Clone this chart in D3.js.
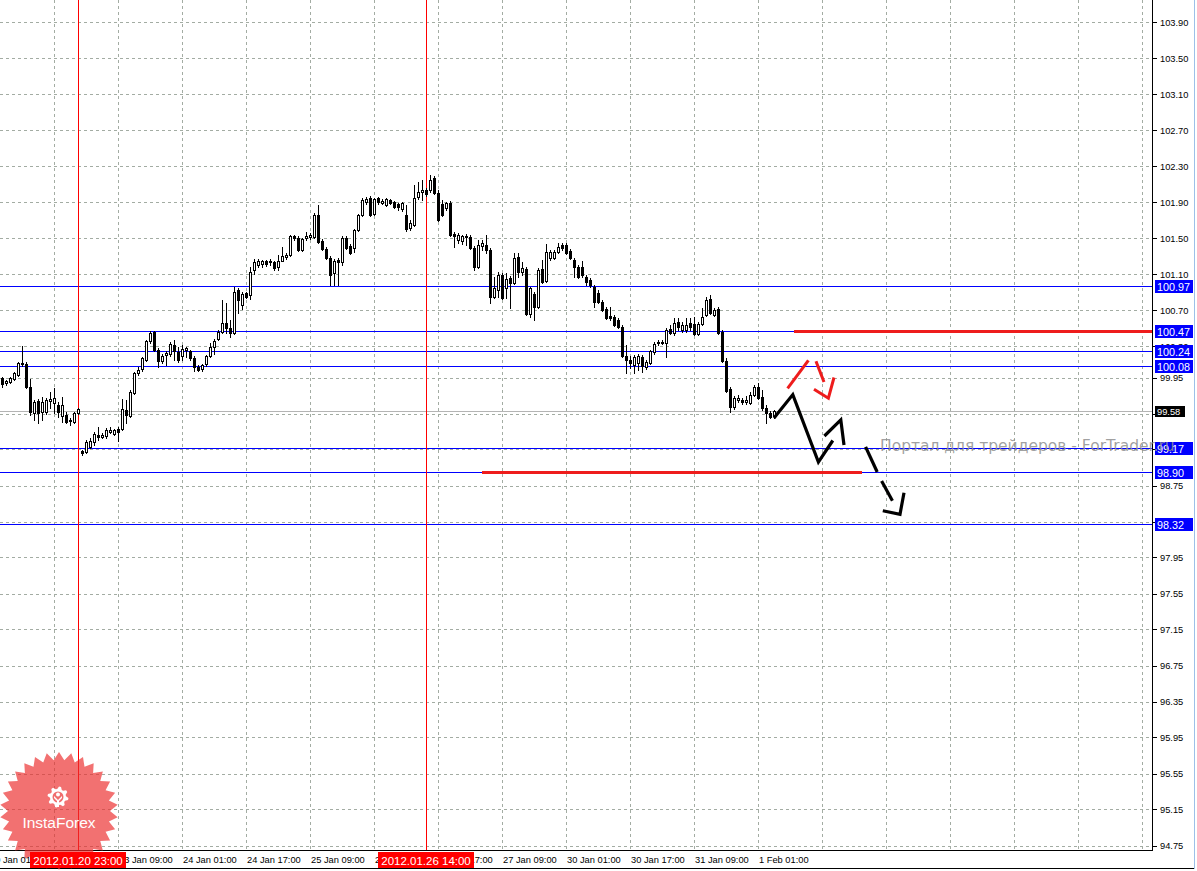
<!DOCTYPE html>
<html>
<head>
<meta charset="utf-8">
<script src="https://cdn.jsdelivr.net/npm/d3@7"></script>
<style>
body { margin: 0; background: #fff; }
svg { display: block; }
</style>
</head>
<body>
<svg width="1197" height="871"></svg>
<script>
// hourly bars, oldest first (bar 19 = 2012.01.20 23:00, bar 106 = 2012.01.26 14:00)
const openP = [99.94,99.89,99.90,99.93,99.98,100.11,100.10,99.84,99.56,99.69,
  99.57,99.57,99.69,99.67,99.64,99.52,99.53,99.48,99.46,99.56,
  99.13,99.12,99.18,99.23,99.31,99.29,99.30,99.34,99.32,99.38,
  99.38,99.59,99.52,99.78,100.00,100.04,100.14,100.36,100.46,100.26,
  100.13,100.20,100.21,100.31,100.23,100.19,100.26,100.24,100.17,100.07,
  100.04,100.10,100.19,100.29,100.38,100.46,100.56,100.50,100.44,100.92,
  100.76,100.89,100.87,101.14,101.20,101.21,101.24,101.23,101.23,101.18,
  101.25,101.29,101.31,101.52,101.50,101.37,101.50,101.51,101.51,101.76,
  101.47,101.38,101.28,101.11,101.26,101.23,101.50,101.41,101.39,101.59,
  101.76,101.90,101.94,101.77,101.94,101.89,101.87,101.92,101.90,101.88,
  101.82,101.76,101.61,101.64,101.96,102.01,102.03,102.03,102.17,102.00,
  101.88,101.83,101.89,101.54,101.48,101.47,101.51,101.51,101.39,101.18,
  101.41,101.42,101.37,100.84,100.92,101.09,100.94,101.06,101.00,101.29,
  101.12,101.16,100.66,100.88,100.73,101.16,101.02,101.28,101.28,101.34,
  101.42,101.42,101.36,101.26,101.18,101.18,101.07,101.03,100.96,100.89,
  100.79,100.71,100.63,100.62,100.59,100.51,100.19,100.14,100.09,100.11,
  100.18,100.07,100.11,100.23,100.33,100.34,100.33,100.49,100.44,100.57,
  100.48,100.48,100.56,100.54,100.43,100.54,100.64,100.82,100.64,100.71,
  100.46,100.13,99.82,99.62,99.70,99.70,99.68,99.67,99.76,99.84,
  99.73,99.61,99.56,99.52];
const highP = [99.96,99.92,99.96,100.01,100.12,100.30,100.12,99.93,99.70,99.71,
  99.73,99.72,99.79,99.83,99.68,99.73,99.57,99.50,99.57,99.61,
  99.14,99.26,99.28,99.34,99.40,99.33,99.39,99.40,99.38,99.40,
  99.71,99.70,99.81,100.01,100.07,100.18,100.37,100.47,100.47,100.28,
  100.21,100.24,100.34,100.37,100.29,100.31,100.29,100.26,100.19,100.09,
  100.10,100.20,100.33,100.38,100.48,100.81,100.78,100.59,100.96,100.94,
  100.90,100.90,101.18,101.27,101.27,101.26,101.26,101.27,101.24,101.31,
  101.40,101.33,101.53,101.53,101.52,101.50,101.57,101.56,101.78,101.87,
  101.49,101.40,101.30,101.27,101.28,101.52,101.52,101.43,101.60,101.77,
  101.94,101.96,101.97,101.94,101.96,101.93,101.94,101.93,101.91,101.89,
  101.90,101.87,101.70,102.09,102.12,102.14,102.06,102.20,102.19,102.03,
  101.92,101.90,101.91,101.57,101.56,101.53,101.54,101.53,101.41,101.48,
  101.48,101.53,101.39,101.07,101.12,101.11,101.11,101.08,101.33,101.33,
  101.23,101.18,100.96,100.90,101.17,101.26,101.43,101.37,101.37,101.44,
  101.44,101.44,101.38,101.28,101.20,101.24,101.09,101.06,100.98,100.92,
  100.81,100.73,100.73,100.64,100.61,100.53,100.31,100.19,100.20,100.21,
  100.20,100.14,100.26,100.34,100.37,100.37,100.50,100.53,100.61,100.61,
  100.57,100.61,100.61,100.62,100.57,100.72,100.84,100.87,100.72,100.73,
  100.48,100.17,99.84,99.74,99.76,99.72,99.74,99.79,99.87,99.89,
  99.81,99.64,99.58,99.59];
const lowP = [99.84,99.87,99.89,99.92,99.97,100.08,99.83,99.53,99.48,99.44,
  99.48,99.54,99.61,99.56,99.51,99.46,99.44,99.42,99.44,99.54,
  99.09,99.11,99.17,99.20,99.26,99.28,99.28,99.33,99.31,99.24,
  99.37,99.44,99.51,99.77,99.98,100.02,100.13,100.33,100.24,100.07,
  100.11,100.09,100.19,100.14,100.12,100.14,100.18,100.14,100.02,100.02,
  100.02,100.08,100.18,100.21,100.37,100.44,100.44,100.40,100.43,100.67,
  100.71,100.83,100.82,101.10,101.18,101.18,101.19,101.20,101.14,101.14,
  101.24,101.27,101.30,101.48,101.36,101.36,101.48,101.49,101.50,101.44,
  101.37,101.27,100.98,100.98,100.98,101.20,101.38,101.32,101.34,101.58,
  101.74,101.88,101.74,101.76,101.88,101.88,101.86,101.88,101.83,101.81,
  101.80,101.58,101.59,101.63,101.93,101.92,101.97,102.01,101.99,101.69,
  101.74,101.81,101.52,101.40,101.44,101.43,101.42,101.38,101.14,101.17,
  101.37,101.33,100.78,100.83,100.84,100.82,100.83,100.72,100.99,101.07,
  101.09,100.64,100.62,100.59,100.72,101.00,101.01,101.26,101.27,101.33,
  101.37,101.32,101.27,101.07,101.06,101.07,100.98,100.96,100.73,100.78,
  100.69,100.60,100.59,100.52,100.50,100.18,100.00,100.06,100.00,100.03,
  100.01,100.04,100.10,100.21,100.31,100.32,100.18,100.43,100.42,100.48,
  100.46,100.46,100.48,100.42,100.42,100.53,100.63,100.66,100.63,100.43,
  100.12,99.79,99.57,99.60,99.68,99.66,99.66,99.66,99.74,99.71,
  99.59,99.44,99.50,99.50];
const closeP = [99.88,99.91,99.94,100.00,100.11,100.10,99.84,99.57,99.68,99.56,
  99.68,99.70,99.71,99.72,99.57,99.64,99.46,99.47,99.56,99.60,
  99.11,99.23,99.24,99.32,99.29,99.31,99.37,99.37,99.37,99.34,
  99.60,99.53,99.79,100.00,100.03,100.17,100.36,100.44,100.26,100.13,
  100.19,100.22,100.32,100.24,100.14,100.27,100.28,100.17,100.07,100.03,
  100.09,100.19,100.29,100.36,100.46,100.56,100.50,100.44,100.90,100.81,
  100.88,100.84,101.12,101.23,101.25,101.24,101.21,101.25,101.17,101.25,
  101.30,101.31,101.52,101.50,101.37,101.49,101.52,101.53,101.76,101.46,
  101.38,101.28,101.09,101.25,101.23,101.50,101.39,101.33,101.59,101.76,
  101.92,101.93,101.76,101.93,101.90,101.91,101.93,101.89,101.84,101.84,
  101.89,101.60,101.67,101.94,102.01,102.03,101.99,102.14,102.00,101.70,
  101.76,101.89,101.53,101.52,101.53,101.52,101.52,101.39,101.18,101.42,
  101.44,101.37,100.84,100.94,101.09,100.83,101.04,101.00,101.28,101.12,
  101.17,100.66,100.94,100.73,101.14,101.01,101.34,101.34,101.34,101.40,
  101.39,101.33,101.28,101.18,101.07,101.09,101.01,100.98,100.79,100.79,
  100.70,100.61,100.61,100.53,100.51,100.19,100.14,100.11,100.18,100.19,
  100.08,100.12,100.24,100.32,100.34,100.33,100.48,100.44,100.56,100.51,
  100.53,100.53,100.51,100.43,100.54,100.62,100.81,100.67,100.70,100.44,
  100.13,99.80,99.62,99.72,99.72,99.68,99.70,99.76,99.84,99.72,
  99.61,99.56,99.51,99.58];

const priceTicks = [103.90,103.50,103.10,102.70,102.30,101.90,101.50,101.10,100.70,100.30,
  99.95,99.55,99.15,98.75,98.35,97.95,97.55,97.15,96.75,96.35,95.95,95.55,95.15,94.75];
const timeTickBars = [13,29,45,61,77,93,109,125,141,157,173,189];
const timeTickLabels = ['20 Jan 17:00','23 Jan 09:00','24 Jan 01:00','24 Jan 17:00','25 Jan 09:00',
  '26 Jan 01:00','26 Jan 17:00','27 Jan 09:00','30 Jan 01:00','30 Jan 17:00','31 Jan 09:00','1 Feb 01:00'];
const firstLabel = '20 Jan 01:00';
const levels = [100.97,100.47,100.24,100.08,99.17,98.90,98.32];
const bidPrice = 99.58;
const markerBars = [19,106];
const markerLabels = ['2012.01.20 23:00','2012.01.26 14:00'];
// red support/resistance segments: price, from bar, to bar
const redSegPrice = [100.47,98.90];
const redSegFrom = [198,120];
const redSegTo = [288,215];
// hand-drawn forecast strokes, [bar, price]
const blackStrokes = [
  [[193,99.50],[197.7,99.76],[204.1,99.01],[207.7,99.25]],
  [[205.6,99.30],[209.7,99.48],[210.5,99.20]]
];
const blackDashes = [
  [[215.9,99.18],[218.8,98.90]],
  [[219.9,98.80],[222.6,98.58]],
  [[220.2,98.47],[224.5,98.43],[225.5,98.67]]
];
const redStrokes = [
  [[196.4,99.83],[201.6,100.14]],
  [[203.5,100.13],[205.5,99.90]],
  [[203.0,99.82],[206.6,99.72],[208.0,99.95]]
];

const svg = d3.select('svg');
const width = +svg.attr('width');
const height = +svg.attr('height');
const plotRight = 1153;
const plotBottom = 851;

const x = d3.scaleLinear().domain([0, 193]).range([2, 774]);
const y = d3.scaleLinear().domain([94.75, 103.90]).range([845.5, 22]);
const px = v => Math.round(v) + 0.5;

svg.append('rect').attr('width', width).attr('height', height).attr('fill', '#fff');

svg.append('clipPath').attr('id', 'plot')
  .append('rect').attr('width', plotRight).attr('height', plotBottom);

const g = svg.append('g').attr('clip-path', 'url(#plot)');

// grid
const gridColor = '#a3aca3';
g.selectAll('.hgrid').data(priceTicks).enter().append('line')
  .attr('x1', 0).attr('x2', plotRight)
  .attr('y1', d => px(y(d))).attr('y2', d => px(y(d)))
  .attr('stroke', gridColor).attr('stroke-dasharray', '3,3');
g.selectAll('.vgrid').data(d3.range(13, 290, 16)).enter().append('line')
  .attr('y1', 0).attr('y2', plotBottom)
  .attr('x1', d => px(x(d))).attr('x2', d => px(x(d)))
  .attr('stroke', gridColor).attr('stroke-dasharray', '3,3');

// bid line
g.append('line')
  .attr('x1', 0).attr('x2', plotRight)
  .attr('y1', px(y(bidPrice))).attr('y2', px(y(bidPrice)))
  .attr('stroke', '#b4b4b4');

// horizontal levels
g.selectAll('.level').data(levels).enter().append('line')
  .attr('x1', 0).attr('x2', plotRight)
  .attr('y1', d => px(y(d))).attr('y2', d => px(y(d)))
  .attr('stroke', '#0000ff');

// vertical markers
g.selectAll('.vmark').data(markerBars).enter().append('line')
  .attr('x1', d => px(x(d))).attr('x2', d => px(x(d)))
  .attr('y1', 0).attr('y2', plotBottom)
  .attr('stroke', '#ff0000');

// red segments
g.selectAll('.redseg').data(redSegPrice).enter().append('line')
  .attr('x1', (d, i) => x(redSegFrom[i])).attr('x2', (d, i) => x(redSegTo[i]))
  .attr('y1', d => Math.round(y(d)) + 0.5).attr('y2', d => Math.round(y(d)) + 0.5)
  .attr('stroke', '#ee1c1c').attr('stroke-width', 3);

// candles
const bars = openP.map((o, i) => ({ i, o, h: highP[i], l: lowP[i], c: closeP[i] }));
const candle = g.selectAll('.candle').data(bars).enter().append('g')
  .attr('shape-rendering', 'crispEdges');
candle.append('line')
  .attr('x1', d => px(x(d.i))).attr('x2', d => px(x(d.i)))
  .attr('y1', d => Math.round(y(d.h))).attr('y2', d => Math.round(y(d.l)) + 1)
  .attr('stroke', '#000');
candle.append('rect')
  .attr('x', d => Math.round(x(d.i)) - 0.5)
  .attr('width', 2)
  .attr('y', d => px(y(Math.max(d.o, d.c))))
  .attr('height', d => Math.max(0, Math.round(y(Math.min(d.o, d.c))) - Math.round(y(Math.max(d.o, d.c)))))
  .attr('fill', d => d.c >= d.o ? '#fff' : '#000')
  .attr('stroke', '#000');

// forecast drawings
const line = d3.line().x(d => x(d[0])).y(d => y(d[1]));
g.selectAll('.bstroke').data(blackStrokes).enter().append('path')
  .attr('d', line).attr('fill', 'none').attr('stroke', '#000')
  .attr('stroke-width', 3.2).attr('stroke-linejoin', 'miter');
g.selectAll('.bdash').data(blackDashes).enter().append('path')
  .attr('d', line).attr('fill', 'none').attr('stroke', '#000')
  .attr('stroke-width', 3.2).attr('stroke-linejoin', 'miter');
g.selectAll('.rstroke').data(redStrokes).enter().append('path')
  .attr('d', line).attr('fill', 'none').attr('stroke', '#ee1c1c')
  .attr('stroke-width', 3).attr('stroke-linejoin', 'miter');

// axes frame
svg.append('line').attr('x1', px(plotRight) - 1).attr('x2', px(plotRight) - 1)
  .attr('y1', 0).attr('y2', plotBottom).attr('stroke', '#000');
svg.append('line').attr('x1', 0).attr('x2', plotRight)
  .attr('y1', px(plotBottom) - 1).attr('y2', px(plotBottom) - 1).attr('stroke', '#000');
svg.append('line').attr('x1', 0).attr('x2', 1195)
  .attr('y1', 868.5).attr('y2', 868.5).attr('stroke', '#000');
svg.append('line').attr('x1', 1194.5).attr('x2', 1194.5)
  .attr('y1', 0).attr('y2', 869).attr('stroke', '#9cc0e8');

// logo (behind axis text)
const logo = svg.append('g').attr('transform', 'translate(59,811)');
const nPts = 30;
logo.append('path')
  .attr('d', d3.lineRadial().angle(d => d[0]).radius(d => d[1]).curve(d3.curveLinearClosed)(
    d3.range(nPts * 2).map(k => [k * Math.PI / nPts, k % 2 ? 51 : 59])))
  .attr('fill', 'rgb(236,45,45)').attr('fill-opacity', 0.68);
const gear = logo.append('g').attr('transform', 'translate(-1,-14)');
gear.append('path')
  .attr('d', d3.lineRadial().angle(d => d[0]).radius(d => d[1]).curve(d3.curveLinearClosed)(
    d3.range(32).map(k => [k * Math.PI / 16 + Math.PI / 32, (k % 4 < 2) ? 10.5 : 8])))
  .attr('fill', '#fff');
gear.append('circle').attr('r', 5.5).attr('fill', 'rgb(240,110,110)');
gear.append('circle').attr('cy', -2.5).attr('r', 2).attr('fill', '#fff');
gear.append('path').attr('d', 'M-4,-1 L0,3 L4,-1 L4,1 L1,4 L1,10 L-1,10 L-1,4 L-4,1 Z').attr('fill', '#fff');
logo.append('text').attr('x', 0).attr('y', 17)
  .attr('text-anchor', 'middle')
  .attr('font-family', 'Liberation Sans, Arial, sans-serif')
  .attr('font-size', 15.5).attr('fill', '#fff')
  .text('InstaForex');

// price axis
const axisFont = 'Liberation Sans, Arial, sans-serif';
svg.selectAll('.ptick').data(priceTicks).enter().append('line')
  .attr('x1', plotRight).attr('x2', plotRight + 4)
  .attr('y1', d => px(y(d))).attr('y2', d => px(y(d)))
  .attr('stroke', '#000');
svg.selectAll('.plabel').data(priceTicks).enter().append('text')
  .attr('x', 1160).attr('y', d => y(d) + 3.5)
  .attr('font-family', axisFont).attr('font-size', 9.3).attr('fill', '#000')
  .text(d => d.toFixed(2));

// time axis
svg.selectAll('.tlabel').data(timeTickBars).enter().append('text')
  .attr('x', d => x(d) + 1).attr('y', 863)
  .attr('font-family', axisFont).attr('font-size', 9.3).attr('fill', '#000')
  .text((d, i) => timeTickLabels[i]);
svg.append('text').attr('x', x(-3)).attr('y', 863)
  .attr('font-family', axisFont).attr('font-size', 9.3).attr('fill', '#000')
  .text(firstLabel);

// level labels
const lv = svg.selectAll('.lvl').data(levels).enter().append('g')
  .attr('transform', d => `translate(1155,${Math.round(y(d)) - 6})`);
lv.append('rect').attr('width', 38).attr('height', 13).attr('fill', '#0000ff');
lv.append('text').attr('x', 2).attr('y', 10.5)
  .attr('font-family', axisFont).attr('font-size', 10.8).attr('fill', '#fff')
  .text(d => d.toFixed(2));

const bid = svg.append('g').attr('transform', `translate(1155,${Math.round(y(bidPrice)) - 5})`);
bid.append('rect').attr('width', 30).attr('height', 11).attr('fill', '#000');
bid.append('text').attr('x', 2).attr('y', 8.5)
  .attr('font-family', axisFont).attr('font-size', 9.3).attr('fill', '#fff')
  .text(bidPrice.toFixed(2));

// marker date labels
const mk = svg.selectAll('.mk').data(markerBars).enter().append('g')
  .attr('transform', d => `translate(${Math.round(x(d)) - 48},852)`);
mk.append('rect').attr('width', 96).attr('height', 16).attr('fill', '#ff0000');
mk.append('text').attr('x', 48).attr('y', 13)
  .attr('text-anchor', 'middle')
  .attr('font-family', axisFont).attr('font-size', 11.5).attr('fill', '#fff')
  .text((d, i) => markerLabels[i]);

// watermark
svg.append('text').attr('x', 880).attr('y', 451)
  .attr('font-family', 'DejaVu Sans, sans-serif').attr('font-size', 15.5)
  .attr('fill', '#909090').attr('fill-opacity', 0.85)
  .text('Портал для трейдеров - ForTrader.ru');
</script>
</body>
</html>
